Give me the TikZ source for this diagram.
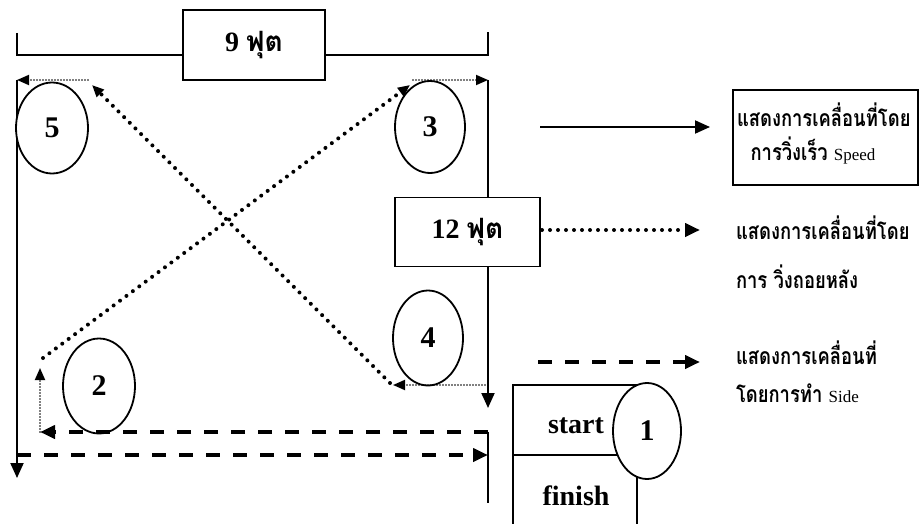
\documentclass[tikz,border=0pt]{standalone}
\usepackage{fontspec}
\setmainfont{Liberation Serif}
\newfontfamily\thai[Script=Thai]{Loma}
\newfontfamily\thaileg[Script=Thai,FakeStretch=0.8]{Loma}
\usetikzlibrary{arrows.meta,shapes.geometric}
\begin{document}
\begin{tikzpicture}[x=1pt,y=-1pt,
  line width=2pt,
  tip/.style={-{Triangle[length=15pt,width=13pt]}},
  smalltip/.style={-{Triangle[length=12pt,width=10pt]}},
  bigdots/.style={line width=4pt, dash pattern=on 0pt off 8pt, line cap=round},
  finedots/.style={line width=1.8pt, dash pattern=on 0pt off 3pt, line cap=round},
  dashline/.style={line width=4pt, dash pattern=on 14pt off 13pt},
  oval/.style={draw, ellipse, fill=white, line width=1.8pt, inner sep=0pt,
    font=\bfseries\fontsize{30}{32}\selectfont},
  sizebox/.style={draw, fill=white, line width=1.8pt, inner sep=0pt,
    font=\bfseries\fontsize{28}{30}\selectfont},
  legtext/.style={anchor=west, inner sep=0pt, font=\thaileg\bfseries\fontsize{23}{24}\selectfont},
  wordtext/.style={inner sep=0pt, font=\bfseries\fontsize{28}{30}\selectfont},
]
\useasboundingbox (0,0) rectangle (920,524);

% coordinates
\coordinate (tlA) at (17,55);
\coordinate (tlB) at (17,33);
\coordinate (trA) at (488,55);
\coordinate (trB) at (488,32);
\coordinate (L0) at (17,80);
\coordinate (L1) at (17,478);
\coordinate (R0) at (488,80);
\coordinate (R1) at (488,408);
\coordinate (d5a) at (88,80);
\coordinate (d3a) at (413,80);
\coordinate (dg5) at (92,85);
\coordinate (dg4) at (390,383);
\coordinate (d4a) at (485,385);
\coordinate (d4b) at (393,385);
\coordinate (dg2) at (43,358);
\coordinate (dg3) at (410,85);
\coordinate (s2a) at (40,432);
\coordinate (s2b) at (40,368);
\coordinate (dsR) at (488,432);
\coordinate (dsRb) at (488,503);
\coordinate (dbL) at (17,455);
\coordinate (dbR) at (488,455);

% dimension line
\draw (tlB) -- (tlA) -- (trA) -- (trB);
\node[sizebox, minimum width=142pt, minimum height=70pt] (nine) at (254,45) {9 {\thai ฟุต}};

% left and right tracks
\draw[tip] (L0) -- (L1);
\node[sizebox, minimum width=145pt, minimum height=69pt] (twelve) at (467.5,232) {12 {\thai ฟุต}};
\draw (R0) -- (twelve.north -| R0);
\draw[tip] (twelve.south -| R0) -- (R1);

% ovals
\node[oval, minimum width=72pt, minimum height=91pt] (o5) at (52,128) {5};
\node[oval, minimum width=70pt, minimum height=92pt] (o3) at (430,127) {3};
\node[oval, minimum width=70pt, minimum height=95pt] (o4) at (428,338) {4};
\node[oval, minimum width=72pt, minimum height=95pt] (o2) at (99,386) {2};

% dotted moves
\draw[finedots, smalltip] (d5a) -- (L0);
\draw[finedots, smalltip] (d3a) -- (R0);
\draw[finedots, smalltip] (d4a) -- (d4b);
\draw[bigdots, smalltip] (dg4) -- (dg5);
\draw[bigdots, smalltip] (dg2) -- (dg3);
\draw[finedots, smalltip] (s2a) -- (s2b);

% dashed side moves
\draw[dashline, tip] (dsR) -- (s2a);
\draw (dsR) -- (dsRb);
\draw[dashline, tip] (dbL) -- (dbR);

% start / finish
\draw[line width=1.8pt] (513,524) -- (513,385) -- (637,385) -- (637,524);
\draw[line width=1.8pt] (513,455) -- (637,455);
\node[oval, minimum width=68pt, minimum height=96pt] (o1) at (647,431) {1};
\node[wordtext] (start) at (576,426) {start};
\node[wordtext] (finish) at (576,496) {finish};

% legend
\coordinate (lg1a) at (540,127);
\coordinate (lg1b) at (710,127);
\coordinate (lg2a) at (542,230);
\coordinate (lg2b) at (700,230);
\coordinate (lg3a) at (538,362);
\coordinate (lg3b) at (700,362);
\node[draw, line width=1.8pt, minimum width=185pt, minimum height=95pt, inner sep=0pt] (legbox) at (825.5,137.5) {};
\draw[tip] (lg1a) -- (lg1b);
\node[legtext] (l1a) at (736,115) {แสดงการเคลื่อนที่โดย};
\node[inner sep=0pt, font=\thaileg\bfseries\fontsize{23}{24}\selectfont] (l1b) at (813,150) {การวิ่งเร็ว {\rmfamily\mdseries\fontsize{17}{18}\selectfont Speed}};
\draw[bigdots, tip] (lg2a) -- (lg2b);
\node[legtext] (l2a) at (735,228) {แสดงการเคลื่อนที่โดย};
\node[legtext] (l2b) at (735,277) {การ วิ่งถอยหลัง};
\draw[dashline, tip] (lg3a) -- (lg3b);
\node[legtext] (l3a) at (735,353) {แสดงการเคลื่อนที่};
\node[legtext] (l3b) at (735,393) {โดยการทำ {\rmfamily\mdseries\fontsize{17}{18}\selectfont Side}};
\end{tikzpicture}
\end{document}
